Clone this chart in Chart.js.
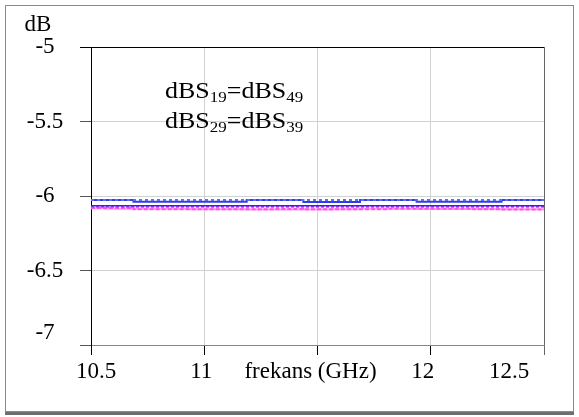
<!DOCTYPE html>
<html>
<head>
<meta charset="utf-8">
<script src="https://cdn.jsdelivr.net/npm/chart.js@4/dist/chart.umd.min.js"></script>
<style>
  html, body { margin: 0; padding: 0; background: #fff; }
  #grafico { display: block; }
</style>
</head>
<body>
<canvas id="grafico" width="579" height="417"></canvas>
<script>
// frekans (GHz) ve dB değerleri
const frekans = [10.5, 10.625, 10.75, 10.875, 11, 11.125, 11.25, 11.375, 11.5, 11.625, 11.75, 11.875, 12, 12.125, 12.25, 12.375, 12.5];
const dBS19 = [-6.027, -6.027, -6.027, -6.027, -6.027, -6.027, -6.027, -6.027, -6.027, -6.027, -6.027, -6.027, -6.027, -6.027, -6.027, -6.027, -6.027];
const dBS49 = [-6.027, -6.027, -6.038, -6.038, -6.038, -6.038, -6.027, -6.027, -6.040, -6.040, -6.027, -6.027, -6.038, -6.038, -6.038, -6.027, -6.027];
const dBS19b = [-6.066, -6.066, -6.066, -6.066, -6.066, -6.066, -6.066, -6.066, -6.066, -6.066, -6.066, -6.066, -6.066, -6.066, -6.066, -6.066, -6.066];
const dBS29 = [-6.072, -6.072, -6.072, -6.072, -6.072, -6.072, -6.072, -6.072, -6.072, -6.072, -6.072, -6.072, -6.072, -6.072, -6.072, -6.072, -6.072];
const dBS39 = [-6.083, -6.085, -6.085, -6.085, -6.089, -6.089, -6.091, -6.091, -6.091, -6.089, -6.085, -6.085, -6.087, -6.087, -6.087, -6.089, -6.089];
const dBS39b = [-6.080, -6.080, -6.089, -6.089, -6.089, -6.089, -6.089, -6.087, -6.089, -6.089, -6.089, -6.085, -6.085, -6.085, -6.089, -6.091, -6.091];

const xEtiketler = ["10.5", "11", "frekans (GHz)", "12", "12.5"];
const xKayma = [5, -3, -7, -8, -35];
const yEtiketler = ["-7", "-6.5", "-6", "-5.5", "-5"];
const yDegerler = [-7, -6.5, -6, -5.5, -5];

const yazi = '23px "Liberation Serif", "DejaVu Serif", serif';
const altYazi = '15px "Liberation Serif", "DejaVu Serif", serif';

function nokta(dizi) {
  return frekans.map((f, i) => ({ x: f, y: dizi[i] }));
}

function seri(dizi, renk, kalinlik, kesik) {
  return {
    data: nokta(dizi),
    borderColor: renk,
    borderWidth: kalinlik,
    borderDash: kesik || [],
    pointRadius: 0,
    stepped: "middle",
    fill: false
  };
}

// alt indisli yazı: [metin, altIndis] çiftleri, yatayda biraz geniş
function indisliYaz(ctx, parcalar, x, y) {
  ctx.save();
  ctx.translate(x, y);
  ctx.scale(1.13, 1);
  let px = 0;
  parcalar.forEach(([ana, alt]) => {
    ctx.font = yazi;
    ctx.fillText(ana, px, 0);
    px += ctx.measureText(ana).width;
    if (alt) {
      ctx.font = altYazi;
      ctx.fillText(alt, px, 4);
      px += ctx.measureText(alt).width;
    }
  });
  ctx.restore();
}

const cerceve = {
  id: "cerceve",
  beforeDraw(chart) {
    const ctx = chart.ctx;
    ctx.save();
    ctx.fillStyle = "#fff";
    ctx.fillRect(0, 0, chart.width, chart.height);
    ctx.strokeStyle = "#8a8a8a";
    ctx.lineWidth = 1;
    ctx.strokeRect(5.5, 5.5, 568, 406);
    ctx.fillStyle = "#6e6e6e";
    ctx.fillRect(5, 412, 569, 3);
    ctx.restore();
  },
  afterDraw(chart) {
    const ctx = chart.ctx;
    const xs = chart.scales.x;
    const ys = chart.scales.y;
    const alan = chart.chartArea;
    ctx.save();
    ctx.fillStyle = "#000";
    ctx.font = yazi;
    ctx.textAlign = "center";
    ctx.textBaseline = "middle";

    ctx.fillText("dB", 38, 25);

    yDegerler.forEach((v, i) => {
      const py = Math.min(ys.getPixelForValue(v), alan.bottom - 12);
      ctx.fillText(yEtiketler[i], 45, py);
    });

    xs.ticks.forEach((t, i) => {
      ctx.fillText(xEtiketler[i], xs.getPixelForValue(t.value) + xKayma[i], alan.bottom + 27);
    });

    ctx.textAlign = "left";
    ctx.textBaseline = "alphabetic";
    indisliYaz(ctx, [["dBS", "19"], ["=dBS", "49"]], 165, 98);
    indisliYaz(ctx, [["dBS", "29"], ["=dBS", "39"]], 165, 128);
    ctx.restore();
  }
};

new Chart(document.getElementById("grafico"), {
  type: "line",
  data: {
    datasets: [
      seri(dBS19, "#5b6bff", 2, [3, 3]),
      seri(dBS49, "#2f3fe6", 2),
      seri(dBS19b, "#2424ff", 1.5),
      seri(dBS29, "#ff20ff", 2, [3, 2]),
      seri(dBS39b, "#ff50f0", 2, [4, 2]),
      seri(dBS39, "#ff9ae8", 2)
    ]
  },
  options: {
    responsive: false,
    devicePixelRatio: 1,
    animation: false,
    layout: { padding: { top: 47, right: 35, left: 0, bottom: 0 } },
    plugins: {
      legend: { display: false },
      tooltip: { enabled: false }
    },
    scales: {
      x: {
        type: "linear",
        min: 10.5,
        max: 12.5,
        afterFit: s => { s.height = 72; },
        ticks: { stepSize: 0.5, display: false },
        grid: {
          color: c => c.tick.value === 10.5 ? "#000" : (c.tick.value === 12.5 ? "#666" : "#d2d2d2"),
          tickColor: c => c.tick.value === 12.5 ? "#666" : "#000",
          tickLength: 10,
          drawTicks: true
        },
        border: { display: true, color: "#858585", width: 1 }
      },
      y: {
        type: "linear",
        min: -7,
        max: -5,
        afterFit: s => { s.width = 91; },
        ticks: { stepSize: 0.5, display: false },
        grid: {
          color: c => c.tick.value === -5 ? "#000" : (c.tick.value === -7 ? "#858585" : "#d2d2d2"),
          tickColor: c => c.tick.value === -5 ? "#000" : "#555",
          tickLength: 11,
          drawTicks: true
        },
        border: { display: true, color: "#000", width: 1 }
      }
    }
  },
  plugins: [cerceve]
});
</script>
</body>
</html>
